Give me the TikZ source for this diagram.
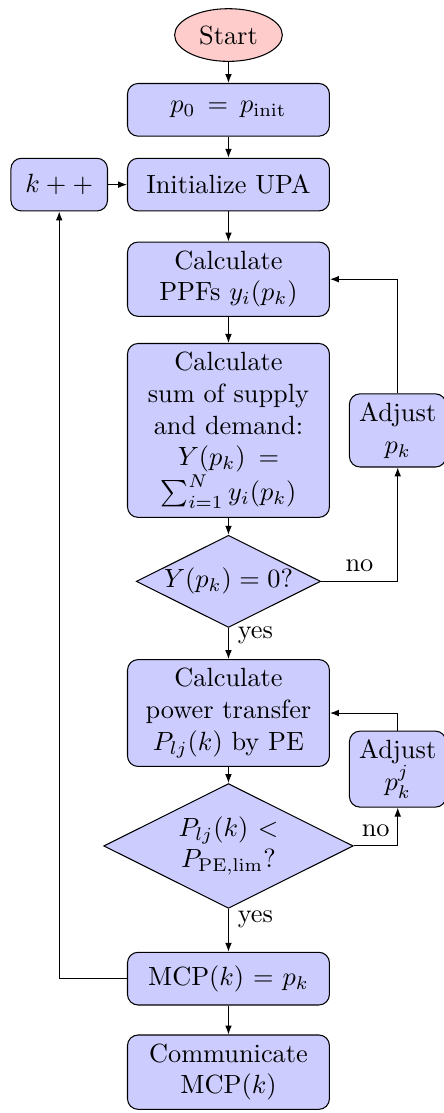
\documentclass[tikz,border=0pt]{standalone}
\usepackage{amsmath}
\usetikzlibrary{arrows.meta,positioning,shapes.geometric}

\begin{document}
\begin{tikzpicture}[node distance=8pt and 7.2pt]
\tikzstyle{block}=[rectangle, draw, fill=blue!20, text width=7em, align=center, rounded corners, minimum height=2em]
\tikzstyle{small block}=[block, text width=3em]
\tikzstyle{decision}=[diamond, draw, fill=blue!20, text width=5em, align=center, aspect=2, inner sep=0pt]
\tikzstyle{cloud}=[ellipse, draw, fill=red!20, minimum height=2em]
\tikzstyle{flow}=[draw, -{Latex[length=3.4pt]}]
\useasboundingbox (-86.75pt,13.3pt) rectangle (81.8pt,-409.3pt);
\node[cloud] (start) {Start};
\node[block, below=of start] (init) {$p_0 = p_{\mathrm{init}}$};
\node[block, below=of init] (upa) {Initialize UPA};
\node[small block, left=of upa] (inck) {$k++$};
\node[block, below=11.4pt of upa] (ppf) {Calculate\\PPFs $y_i(p_k)$};
\node[block, below=9.9pt of ppf] (sum) {Calculate\\sum of supply\\and demand:\\$Y(p_k) = \sum_{i=1}^N y_i(p_k)$};
\node[decision, below=6.4pt of sum] (zero) {$Y(p_k) = 0$?};
\node[block, below=11.8pt of zero] (power) {Calculate\\power transfer\\$P_{lj}(k)$ by PE};
\node[decision, below=6.1pt of power] (limit) {$P_{lj}(k) < P_{\mathrm{PE,lim}}$?};
\node[block, below=16.3pt of limit] (mcp) {MCP$(k) = p_k$};
\node[block, below=11pt of mcp] (comm) {Communicate\\MCP$(k)$};
\node[small block, right=of sum] (adjp) {Adjust\\$p_k$};
\node[small block, right=of power, yshift=-21.3pt] (adjpj) {Adjust\\$p_k^j$};
% main column
\draw[flow] (start) -- (init);
\draw[flow] (init) -- (upa);
\draw[flow] (inck) -- (upa);
\draw[flow] (upa) -- (ppf);
\draw[flow] (ppf) -- (sum);
\draw[flow] (sum) -- (zero);
\draw[flow] (zero) -- node[near start, right] {yes} (power);
\draw[flow] (power) -- (limit);
\draw[flow] (limit) -- node[near start, right] {yes} (mcp);
\draw[flow] (mcp) -- (comm);
% loops
\draw[flow] (zero) -| node[near start, above] {no} (adjp);
\draw[flow] (adjp) |- (ppf);
\draw[flow] (limit) -| node[near start, above] {no} (adjpj);
\draw[flow] (adjpj) |- (power);
\draw[flow] (mcp) -| (inck);
\end{tikzpicture}
\end{document}
